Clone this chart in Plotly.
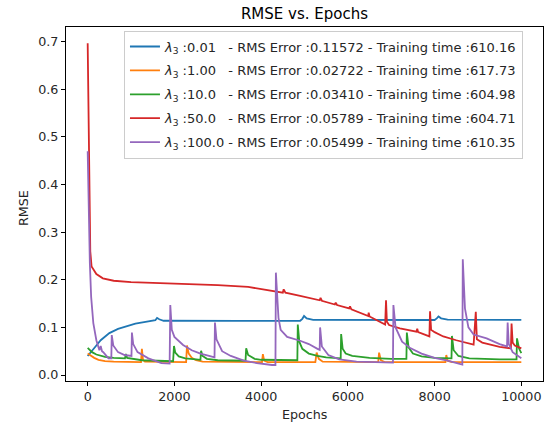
import plotly.graph_objects as go

# ---- data ----
lam_labels = ["0.01", "1.00", "10.0", "50.0", "100.0"]
rms_errors = ["0.11572", "0.02722", "0.03410", "0.05789", "0.05499"]
train_times = ["610.16", "617.73", "604.98", "604.71", "610.35"]
colors = ["#1f77b4", "#ff7f0e", "#2ca02c", "#d62728", "#9467bd"]

blue_epochs = [0, 100, 200, 300, 400, 500, 700, 900, 1100, 1300, 1500, 1560, 1600, 1650, 1750,
               2500, 3500, 4900, 4950, 4990, 5050, 5200, 6500, 8000, 8050, 8090, 8150, 8300, 10000]
blue_rmse = [0.040, 0.050, 0.062, 0.073, 0.081, 0.088, 0.097, 0.103, 0.108, 0.111, 0.113, 0.115, 0.120,
             0.117, 0.114, 0.1135, 0.1138, 0.114, 0.118, 0.124, 0.119, 0.116, 0.1155, 0.1155, 0.119,
             0.123, 0.119, 0.1162, 0.1157]

orange_epochs = [0, 50, 150, 250, 400, 600, 1200, 1230, 1250, 1275, 1320, 2270, 2290, 2330, 2400,
                 2500, 2650, 4020, 4040, 4070, 4150, 5250, 5280, 5330, 5420, 6700, 6720, 6760,
                 6850, 8250, 8270, 8300, 8400, 10000]
orange_rmse = [0.045, 0.042, 0.036, 0.032, 0.029, 0.028, 0.027, 0.027, 0.055, 0.032, 0.028, 0.027,
               0.062, 0.045, 0.036, 0.031, 0.028, 0.027, 0.044, 0.030, 0.027, 0.027, 0.047, 0.034,
               0.028, 0.027, 0.047, 0.031, 0.027, 0.027, 0.042, 0.030, 0.027, 0.027]

green_epochs = [0, 100, 200, 300, 400, 600, 860, 880, 910, 1250, 1800, 1970, 1990, 2020, 2100,
                2250, 2500, 2600, 2615, 2650, 2750, 3000, 3640, 3655, 3700, 3850, 4000, 4700,
                4835, 4845, 4880, 4950, 5100, 5300, 5500, 5835, 5845, 5880, 5950, 6100, 6500,
                7000, 7350, 7360, 7400, 7500, 7700, 8000, 8390, 8400, 8440, 8550, 8800, 9500,
                9890, 9900, 9950, 10000]
green_rmse = [0.057, 0.048, 0.043, 0.040, 0.038, 0.036, 0.035, 0.044, 0.036, 0.031, 0.029, 0.029,
              0.061, 0.047, 0.039, 0.035, 0.033, 0.032, 0.051, 0.040, 0.034, 0.031, 0.030, 0.056,
              0.042, 0.034, 0.032, 0.031, 0.031, 0.106, 0.070, 0.055, 0.045, 0.040, 0.037, 0.035,
              0.086, 0.055, 0.045, 0.040, 0.036, 0.034, 0.034, 0.089, 0.058, 0.045, 0.039, 0.036,
              0.035, 0.082, 0.052, 0.040, 0.035, 0.033, 0.033, 0.077, 0.055, 0.046]

red_epochs = [0, 60, 90, 150, 200, 350, 600, 1000, 1700, 2300, 3000, 3700, 4200, 4500, 4520, 4560,
              4900, 5350, 5370, 5400, 5700, 5720, 5750, 6030, 6050, 6080, 6470, 6480, 6500, 6860,
              6880, 6900, 6950, 7200, 7580, 7600, 7620, 7880, 7895, 7920, 8000, 8200, 8500, 8900,
              8950, 8975, 9100, 9500, 9760, 9775, 9800, 9850, 10000]
red_rmse = [0.697, 0.26, 0.228, 0.218, 0.212, 0.203, 0.198, 0.195, 0.193, 0.190, 0.189, 0.185,
            0.178, 0.173, 0.180, 0.173, 0.166, 0.157, 0.162, 0.156, 0.148, 0.152, 0.147, 0.140,
            0.144, 0.138, 0.124, 0.131, 0.123, 0.106, 0.157, 0.112, 0.105, 0.098, 0.091, 0.097,
            0.090, 0.081, 0.134, 0.095, 0.090, 0.081, 0.073, 0.064, 0.133, 0.075, 0.068, 0.059,
            0.056, 0.108, 0.068, 0.062, 0.056]

purple_epochs = [0, 30, 50, 80, 130, 200, 250, 270, 300, 330, 360, 480, 545, 555, 590, 700, 850,
                 1010, 1020, 1050, 1150, 1400, 1700, 1890, 1905, 1940, 2000, 2200, 2400, 2600,
                 2800, 2925, 2935, 2970, 3100, 3300, 3600, 3900, 4250, 4330, 4340, 4400, 4450,
                 4600, 4900, 5100, 5300, 5350, 5360, 5400, 5550, 5800, 6200, 7040, 7050, 7100,
                 7250, 7450, 7700, 8000, 8300, 8600, 8640, 8650, 8700, 8780, 8900, 9200, 9500,
                 9670, 9685, 9710, 9800, 10000]
purple_rmse = [0.47, 0.30, 0.235, 0.164, 0.109, 0.073, 0.060, 0.052, 0.061, 0.050, 0.048, 0.035,
               0.035, 0.084, 0.062, 0.048, 0.042, 0.040, 0.089, 0.065, 0.048, 0.035, 0.025, 0.024,
               0.147, 0.095, 0.080, 0.063, 0.052, 0.045, 0.040, 0.037, 0.110, 0.075, 0.050, 0.040,
               0.030, 0.025, 0.021, 0.021, 0.215, 0.120, 0.095, 0.080, 0.072, 0.065, 0.055, 0.053,
               0.100, 0.060, 0.042, 0.033, 0.028, 0.026, 0.147, 0.100, 0.070, 0.056, 0.045, 0.036,
               0.030, 0.023, 0.022, 0.243, 0.140, 0.100, 0.085, 0.077, 0.065, 0.060, 0.110, 0.065,
               0.048, 0.035]

x_ticks = [0, 2000, 4000, 6000, 8000, 10000]
y_ticks = [0.0, 0.1, 0.2, 0.3, 0.4, 0.5, 0.6, 0.7]

series = [
    (blue_epochs, blue_rmse),
    (orange_epochs, orange_rmse),
    (green_epochs, green_rmse),
    (red_epochs, red_rmse),
    (purple_epochs, purple_rmse),
]

NB = "\u00a0"
pads = {"0.01": 3, "1.00": 3, "10.0": 3, "50.0": 3, "100.0": 1}

fig = go.Figure()
for i, (xs, ys) in enumerate(series):
    lab = lam_labels[i]
    name = ("<i>λ</i><sub>3</sub> :" + lab + NB * pads[lab] + "- RMS Error :" + rms_errors[i]
            + " - Training time :" + train_times[i])
    fig.add_trace(go.Scatter(x=xs, y=ys, mode="lines", name=name, legendgroup=f"g{i}",
                             line=dict(color=colors[i], width=1.8)))

FONT = "DejaVu Sans"
TXT = "#262626"
fig.update_layout(
    width=553, height=431,
    margin=dict(l=66, r=10, t=27, b=50, autoexpand=False),
    paper_bgcolor="white", plot_bgcolor="white",
    font=dict(family=FONT, size=12.7, color=TXT),
    title=dict(text="RMSE vs. Epochs", xref="paper", x=0.5, xanchor="center", y=1 - 14 / 431,
               yanchor="middle", font=dict(size=15, color="black")),
    showlegend=True,
    legend=dict(x=0.958, y=0.99, xanchor="right", yanchor="top",
                bgcolor="rgba(255,255,255,0.8)", bordercolor="#cccccc", borderwidth=1,
                tracegroupgap=4, font=dict(size=13, color=TXT)),
    annotations=[
        dict(text="Epochs", xref="paper", yref="paper", x=0.5, y=-(414 - 381) / 354,
             xanchor="center", yanchor="middle", showarrow=False, font=dict(size=12.7, color=TXT)),
        dict(text="RMSE", xref="paper", yref="paper", x=-(66 - 23) / 477, y=(381 - 208) / 354,
             xanchor="center", yanchor="middle", textangle=-90, showarrow=False,
             font=dict(size=12.7, color=TXT)),
    ],
)
fig.update_xaxes(range=[-500, 10500], tickvals=x_ticks, ticktext=[str(v) for v in x_ticks],
                 automargin=False, showgrid=False, zeroline=False, showline=True,
                 linecolor="black", linewidth=1, mirror=True, ticks="outside", ticklen=4,
                 tickcolor="black")
fig.update_yaxes(range=[-0.0126, 0.731], tickvals=y_ticks, ticktext=[f"{v:.1f}" for v in y_ticks],
                 automargin=False, showgrid=False, zeroline=False, showline=True,
                 linecolor="black", linewidth=1, mirror=True, ticks="outside", ticklen=4,
                 tickcolor="black")

fig.write_html("out.html", config={"displayModeBar": False},
               post_script="document.body.style.margin='0';document.body.style.overflow='hidden';")
